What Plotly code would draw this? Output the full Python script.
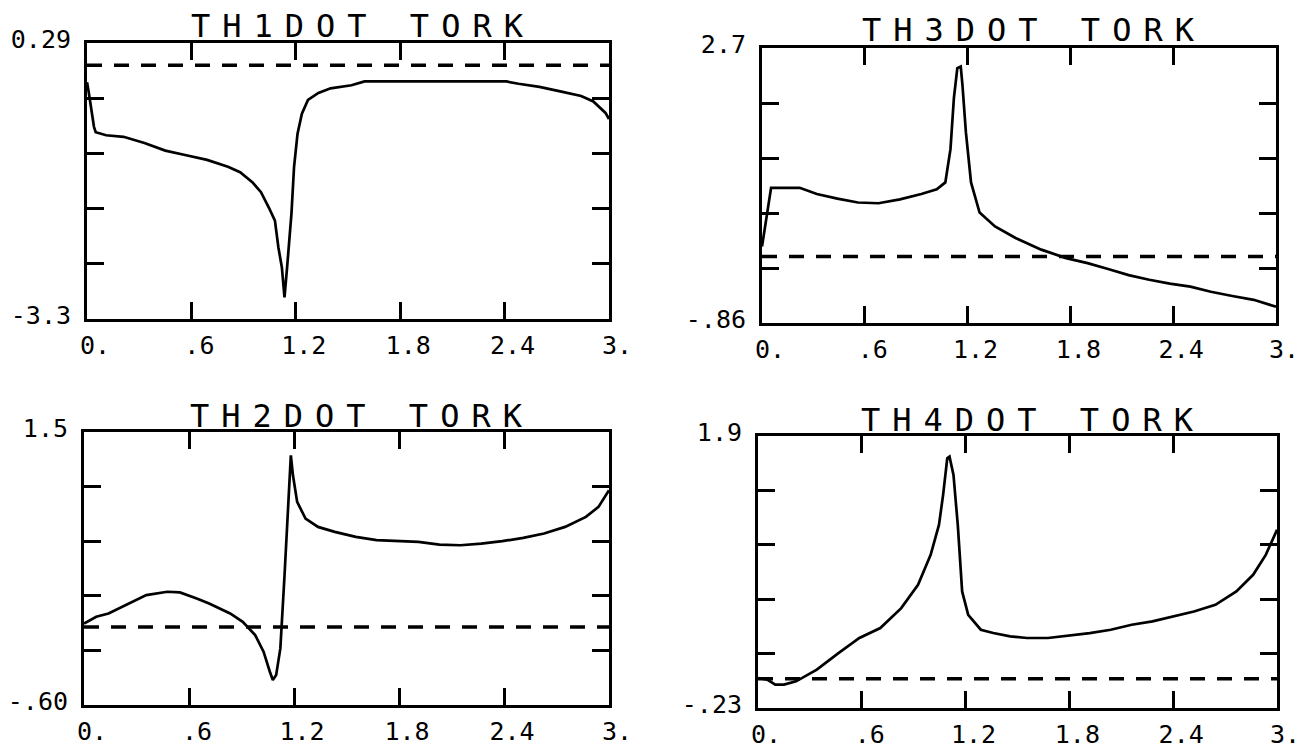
import numpy as np
import plotly.graph_objects as go

# ---------------- data ----------------
x_ticks = [0, 0.6, 1.2, 1.8, 2.4, 3.0]
x_ticktext = ["0.", ".6", "1.2", "1.8", "2.4", "3."]

# TH1DOT TORK
th1_x = [0.0, 0.01, 0.04, 0.05, 0.11, 0.21, 0.33, 0.45, 0.57, 0.69, 0.81, 0.88, 0.95, 1.0, 1.045,
         1.08, 1.10, 1.12, 1.13, 1.135, 1.15, 1.175, 1.19, 1.21, 1.235, 1.27, 1.33, 1.40, 1.52,
         1.595, 1.76, 2.12, 2.41, 2.48, 2.60, 2.72, 2.84, 2.91, 2.98, 3.0]
th1_y = [-0.22, -0.35, -0.80, -0.87, -0.91, -0.93, -1.01, -1.11, -1.17, -1.23, -1.32, -1.39, -1.52,
         -1.65, -1.85, -2.02, -2.37, -2.63, -2.89, -3.02, -2.63, -1.93, -1.32, -0.89, -0.63, -0.45,
         -0.36, -0.30, -0.26, -0.21, -0.21, -0.21, -0.21, -0.24, -0.28, -0.34, -0.40, -0.47, -0.62, -0.70]
th1_range = [-3.3, 0.29]
th1_labels = ["-3.3", "", "", "", "", "0.29"]

# TH3DOT TORK
th3_x = [0.0, 0.053, 0.22, 0.32, 0.44, 0.56, 0.68, 0.805, 0.93, 1.02, 1.07, 1.10, 1.12, 1.14,
         1.16, 1.17, 1.19, 1.22, 1.27, 1.36, 1.48, 1.63, 1.775, 1.90, 2.02, 2.14, 2.26, 2.38,
         2.50, 2.62, 2.745, 2.87, 3.0]
th3_y = [0.13, 0.89, 0.89, 0.81, 0.75, 0.70, 0.69, 0.74, 0.81, 0.87, 0.96, 1.39, 2.05, 2.44,
         2.46, 2.22, 1.61, 0.96, 0.57, 0.39, 0.24, 0.09, -0.02, -0.085, -0.16, -0.24, -0.30,
         -0.35, -0.39, -0.455, -0.51, -0.56, -0.65]
th3_range = [-0.86, 2.7]
th3_labels = ["-.86", "", "", "", "", "2.7"]

# TH2DOT TORK
th2_x = [0.0, 0.07, 0.14, 0.237, 0.356, 0.476, 0.548, 0.644, 0.715, 0.835, 0.907, 0.978, 1.026,
         1.062, 1.079, 1.098, 1.122, 1.146, 1.165, 1.182, 1.194, 1.218, 1.266, 1.337, 1.433,
         1.553, 1.672, 1.792, 1.911, 2.031, 2.151, 2.27, 2.39, 2.51, 2.629, 2.749, 2.868, 2.94, 3.0]
th2_y = [0.027, 0.079, 0.104, 0.168, 0.245, 0.271, 0.266, 0.22, 0.181, 0.104, 0.04, -0.062, -0.19,
         -0.344, -0.408, -0.37, -0.165, 0.40, 0.911, 1.32, 1.167, 0.962, 0.834, 0.77, 0.732,
         0.693, 0.668, 0.66, 0.655, 0.634, 0.629, 0.642, 0.66, 0.686, 0.719, 0.77, 0.847, 0.924, 1.052]
th2_range = [-0.60, 1.5]
th2_labels = ["-.60", "", "", "", "", "1.5"]

# TH4DOT TORK
th4_x = [0.0, 0.053, 0.10, 0.15, 0.22, 0.34, 0.465, 0.586, 0.707, 0.828, 0.925, 0.998, 1.046,
         1.07, 1.094, 1.107, 1.13, 1.155, 1.18, 1.215, 1.288, 1.36, 1.458, 1.554, 1.676, 1.797,
         1.918, 2.039, 2.16, 2.28, 2.40, 2.52, 2.644, 2.765, 2.862, 2.935, 3.0]
th4_y = [0.005, -0.008, -0.047, -0.047, -0.021, 0.07, 0.20, 0.318, 0.396, 0.552, 0.735, 0.969,
         1.204, 1.439, 1.725, 1.738, 1.595, 1.2, 0.683, 0.50, 0.383, 0.357, 0.331, 0.318, 0.318,
         0.338, 0.357, 0.383, 0.422, 0.448, 0.487, 0.526, 0.578, 0.683, 0.813, 0.969, 1.165]
th4_range = [-0.23, 1.9]
th4_labels = ["-.23", "", "", "", "", "1.9"]

titles = ["TH1DOT TORK", "TH3DOT TORK", "TH2DOT TORK", "TH4DOT TORK"]

# ---------------- layout ----------------
OFF = 8                      # default page body margin
W, H = 1303, 750
# plot boxes in page pixels: (left, right, top, bottom) and title cap-baseline y
boxes = [(87, 609, 43, 319), (762, 1276, 48, 323), (84, 609, 432, 705), (758, 1277, 436, 708)]
title_base = [38, 42, 428, 432]
panels = [(th1_x, th1_y, th1_range, th1_labels),
          (th3_x, th3_y, th3_range, th3_labels),
          (th2_x, th2_y, th2_range, th2_labels),
          (th4_x, th4_y, th4_range, th4_labels)]

def px(x):
    return (x - OFF) / W

def py(y):
    return 1 - (y - OFF) / H

tick_font = dict(family="DejaVu Sans Mono", size=25, color="black")
title_font = dict(family="DejaVu Sans Mono", size=32, color="black")

fig = go.Figure()
layout = dict(width=W, height=H, margin=dict(l=0, r=0, t=0, b=0, pad=0),
              paper_bgcolor="white", plot_bgcolor="white", showlegend=False,
              annotations=[], shapes=[])

for i, ((xs, ys, yr, ylab), (l, r, t, b), tb, title) in enumerate(zip(panels, boxes, title_base, titles)):
    n = "" if i == 0 else str(i + 1)
    xa, ya = "x" + n, "y" + n
    fig.add_trace(go.Scatter(x=xs, y=ys, mode="lines", xaxis=xa, yaxis=ya,
                             line=dict(color="black", width=2.7), hoverinfo="skip"))
    common = dict(showgrid=False, zeroline=False, showline=True, linecolor="black", linewidth=3,
                  mirror="ticks", ticks="inside", tickcolor="black", tickwidth=3,
                  tickfont=tick_font, automargin=False)
    layout["xaxis" + n] = dict(domain=[px(l), px(r)], range=[0, 3], anchor=ya,
                               tickvals=x_ticks, ticktext=x_ticktext, ticklen=17,
                               ticklabelshift=8, ticklabelstandoff=2, **common)
    yt = list(np.linspace(yr[0], yr[1], 6))
    layout["yaxis" + n] = dict(domain=[py(b), py(t)], range=yr, anchor=xa,
                               tickvals=yt, ticktext=ylab, ticklen=17,
                               ticklabelstandoff=8, ticklabelshift=-4, **common)
    layout["shapes"].append(dict(type="line", xref=xa + " domain", yref=ya, x0=0, x1=1, y0=0, y1=0,
                                 line=dict(color="black", width=3.5, dash="15px,12px")))
    layout["annotations"].append(dict(
        text='<span style="letter-spacing:12px">' + title + '</span>',
        xref="paper", yref="paper", x=px((l + r) / 2 + 15), y=py(tb + 8),
        xanchor="center", yanchor="bottom", showarrow=False, borderpad=0, font=title_font))

fig.update_layout(**layout)
fig.write_html("out.html")
